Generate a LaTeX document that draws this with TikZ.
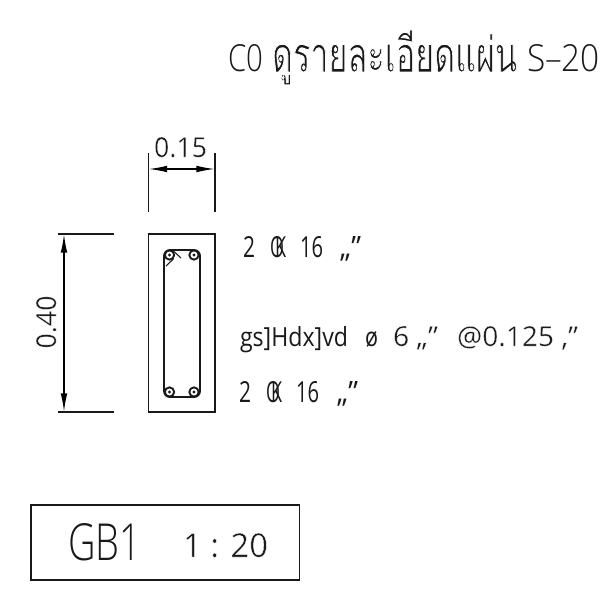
\documentclass[tikz,border=0pt]{standalone}
\usepackage{fontspec}
\usepackage{graphicx}
\setmainfont{Open Sans}
\newfontfamily\lightfont{Open Sans Light}
\newfontfamily\thaifont[Script=Thai]{Loma}
\usetikzlibrary{arrows.meta}
\newlength{\px}\setlength{\px}{0.75pt}
\newcommand{\tok}[3]{\resizebox{#1\px}{#2\px}{#3}}
\newcommand{\gap}[1]{\hspace{#1\px}}
\newcommand{\phibar}{\rlap{O}\hspace{0.28em}K}
\newcommand{\thinby}[2]{\special{pdf:code 2 Tr #1 w 1 1 1 RG}#2\special{pdf:code 0 Tr 0 w 0 0 0 RG}}
\tikzset{
  x=0.75pt,y=-0.75pt,
  ink/.style={draw=black!90,line width=1pt},
  lbl/.style={inner sep=0pt,outer sep=0pt,anchor=base west,text=black!90},
  bar/.style={circle,draw=black!90,line width=1.4pt,inner sep=0pt,minimum size=7pt},
  dimtip/.style={line width=1.1pt,draw=black,{Latex[length=14pt,width=5pt]}-{Latex[length=14pt,width=5pt]}}
}
\begin{document}
\begin{tikzpicture}
\useasboundingbox (0,0) rectangle (604,606);
% title
\node[lbl] (title) at (228,72) {\tok{35}{27}{\lightfont C0}\gap{9}\tok{245}{42}{\thaifont\thinby{0.2}{ดูรายละเอียดแผ่น}}\gap{10}\tok{73}{27}{\lightfont S–20}};
% section
\node[draw=black!90,line width=1.1pt,minimum width=49.9pt,minimum height=133.5pt,inner sep=0pt] (col) at (181.75,323) {};
\draw[ink,line width=1.4pt,rounded corners=4.5pt] (164,250) rectangle (200,397);
\node[bar] (b1) at (169.5,255) {};
\node[bar] (b2) at (194,255) {};
\node[bar] (b3) at (169.5,392) {};
\node[bar] (b4) at (194,392) {};
\fill[black!90] (b1) circle (1.3pt) (b2) circle (1.3pt) (b3) circle (1.3pt) (b4) circle (1.3pt);
\coordinate (h1) at (181,258); \coordinate (h2) at (166,266);
\draw[ink,line width=.8pt] (b1.north east) -- (h1);
\draw[ink,line width=.8pt] (b1.south east) -- (h2);
% dim top
\coordinate (ta) at (148.5,153); \coordinate (tb) at (148.5,212);
\coordinate (tc) at (215,153); \coordinate (td) at (215,212);
\coordinate (te) at (148.5,169); \coordinate (tf) at (215,169);
\draw[ink] (ta) -- (tb); \draw[ink] (tc) -- (td);
\draw[dimtip] (te) -- (tf);
\node[lbl] (w) at (154,157) {\tok{53}{20}{\thinby{0.1}{0.15}}};
% dim left
\coordinate (la) at (58,234); \coordinate (lb) at (114,234);
\coordinate (lc) at (58,412); \coordinate (ld) at (114,412);
\coordinate (le) at (64,234); \coordinate (lf) at (64,412);
\draw[ink] (la) -- (lb); \draw[ink] (lc) -- (ld);
\draw[dimtip] (le) -- (lf);
\node[inner sep=0pt,outer sep=0pt,rotate=90,anchor=base,text=black!90] (h) at (56,322) {\tok{53}{20}{\thinby{0.1}{0.40}}};
% notes
\node[lbl] (n1) at (243,257) {\tok{12}{21}{2}\gap{15}\tok{16}{21}{\phibar}\gap{14}\tok{23}{21}{16}\gap{17}\tok{21}{21}{,,”}};
\node[lbl] (n2) at (240,346) {\tok{108}{20}{gs]Hdx]vd}\gap{17}\tok{13}{15}{ø}\gap{15}\tok{45}{20}{\thinby{0.1}{6 ,,”}}\gap{19}\tok{121}{20}{\thinby{0.1}{@0.125 ,”}}};
\node[lbl] (n3) at (239,402) {\tok{12}{21}{2}\gap{15}\tok{16}{21}{\phibar}\gap{14}\tok{23}{21}{16}\gap{18}\tok{21}{21}{,,”}};
% tag
\node[draw=black!90,line width=1.1pt,minimum width=201.4pt,minimum height=56.25pt,inner sep=0pt] (tag) at (165.25,542.5) {};
\node[lbl] (g) at (68,560) {\tok{73}{37}{\lightfont GB1}};
\node[lbl] (s) at (183,557) {\tok{85}{24}{\thinby{0.12}{1 : 20}}};
\end{tikzpicture}
\end{document}
